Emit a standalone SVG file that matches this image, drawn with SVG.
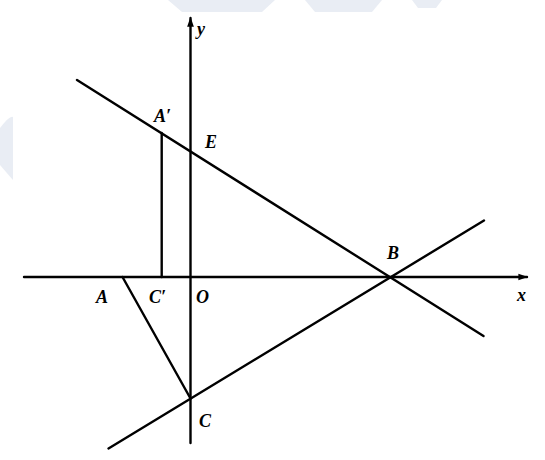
<svg xmlns="http://www.w3.org/2000/svg" width="545" height="460" viewBox="0 0 545 460">
<style>
.ln{stroke:#000;stroke-width:2.4;fill:none;stroke-linecap:round}
.lb{font-family:"Liberation Serif",serif;font-style:italic;font-weight:bold;font-size:18px;fill:#000}
.wm{fill:#e9edf4}
</style>
<defs>
<marker id="ar" viewBox="0 0 10 10" refX="9" refY="5" markerWidth="4" markerHeight="4" orient="auto">
<path d="M0,1.5 L10,5 L0,8.5 Z" fill="#000"/>
</marker>
</defs>
<rect width="545" height="460" fill="#fff"/>
<g id="watermark">
<path class="wm" d="M168,0 L275,0 L262,12 L182,12 Z"/>
<path class="wm" d="M305,0 L382,0 L372,12 L315,12 Z"/>
<path class="wm" d="M412,0 L442,0 L436,8 L418,8 Z"/>
<path class="wm" d="M0,128 Q10,115 13,117 L13,180 Q6,172 0,165 Z"/>
</g>
<g id="connectors">
<line id="x-axis" class="ln" x1="24" y1="277" x2="527" y2="277" marker-end="url(#ar)"/>
<line id="y-axis" class="ln" x1="190.5" y1="443" x2="190.5" y2="18" marker-end="url(#ar)"/>
<line id="line-EB" class="ln" x1="77" y1="80" x2="483.5" y2="336"/>
<line id="line-CB" class="ln" x1="108.5" y1="448.5" x2="484" y2="220.5"/>
<line id="seg-AC" class="ln" x1="122.5" y1="277" x2="190.5" y2="398.5"/>
<line id="seg-A1C1" class="ln" x1="161.7" y1="133" x2="161.7" y2="277"/>
</g>
<g id="label-y"><text class="lb" x="197" y="35">y</text></g>
<g id="label-A1"><text class="lb" x="154" y="122">A′</text></g>
<g id="label-E"><text class="lb" x="205" y="148">E</text></g>
<g id="label-B"><text class="lb" x="387" y="259">B</text></g>
<g id="label-x"><text class="lb" x="517" y="301">x</text></g>
<g id="label-A"><text class="lb" x="96" y="303">A</text></g>
<g id="label-C1"><text class="lb" x="149" y="303">C′</text></g>
<g id="label-O"><text class="lb" x="196" y="303">O</text></g>
<g id="label-C"><text class="lb" x="199" y="427">C</text></g>
</svg>
